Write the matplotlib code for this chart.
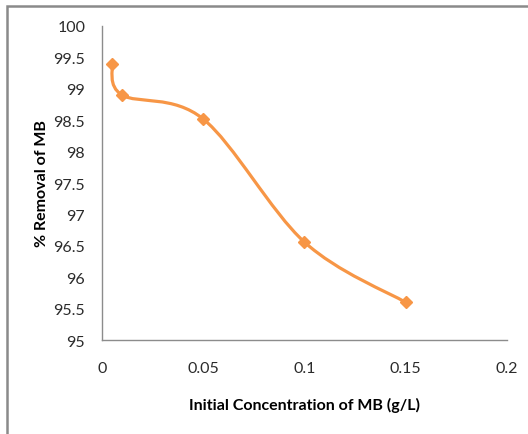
import matplotlib
matplotlib.use('Agg')
import matplotlib.pyplot as plt
from matplotlib.path import Path
from matplotlib.patches import PathPatch, Rectangle
import numpy as np

# data
conc = [0.005, 0.01, 0.05, 0.1, 0.15]
removal = [99.4, 98.9, 98.52, 96.56, 95.6]

xticks = [0, 0.05, 0.1, 0.15, 0.2]
xticklabels = ['0', '0.05', '0.1', '0.15', '0.2']
yticks = [95, 95.5, 96, 96.5, 97, 97.5, 98, 98.5, 99, 99.5, 100]
yticklabels = ['95', '95.5', '96', '96.5', '97', '97.5', '98', '98.5', '99', '99.5', '100']

orange = '#F79646'
plt.rcParams['font.family'] = ['Lato', 'DejaVu Sans']

fig = plt.figure(figsize=(5.28, 4.35), dpi=100)
ax = fig.add_axes([0.193, 0.216, 0.767, 0.722])

# smooth line like Excel (Catmull-Rom as cubic bezier)
pts = np.column_stack([conc, removal])
verts = [tuple(pts[0])]
codes = [Path.MOVETO]
n = len(pts)
for i in range(n - 1):
    p0 = pts[i - 1] if i > 0 else pts[i]
    p1 = pts[i]
    p2 = pts[i + 1]
    p3 = pts[i + 2] if i + 2 < n else pts[i + 1]
    c1 = p1 + (p2 - p0) / 6
    c2 = p2 - (p3 - p1) / 6
    verts += [tuple(c1), tuple(c2), tuple(p2)]
    codes += [Path.CURVE4] * 3
ax.add_patch(PathPatch(Path(verts, codes), fill=False, edgecolor=orange, lw=2.3, capstyle='round'))
ax.plot(conc, removal, linestyle='none', marker='D', ms=6.5, color=orange)

ax.set_xlim(0, 0.2)
ax.set_ylim(95, 100)
ax.set_xticks(xticks)
ax.set_xticklabels(xticklabels)
ax.set_yticks(yticks)
ax.set_yticklabels(yticklabels)
ax.tick_params(length=0, labelsize=11.5, colors='#2b2b2b')
ax.tick_params(axis='y', pad=12)
ax.tick_params(axis='x', pad=15)

for s in ['top', 'right']:
    ax.spines[s].set_visible(False)
for s in ['left', 'bottom']:
    ax.spines[s].set_color('#8c8c8c')
    ax.spines[s].set_linewidth(1)

ax.set_xlabel('Initial Concentration of MB (g/L)', fontsize=11.5, fontweight='bold', labelpad=16)
ax.set_ylabel('% Removal of MB', fontsize=11.5, fontweight='bold', labelpad=3)

# outer chart border
fig.patches.append(Rectangle((7 / 528, -0.1), 1.2, 1 - 7 / 435 + 0.1, transform=fig.transFigure,
                             fill=False, edgecolor='#8a8a8a', lw=1.8))

fig.savefig('out.png', dpi=100)
